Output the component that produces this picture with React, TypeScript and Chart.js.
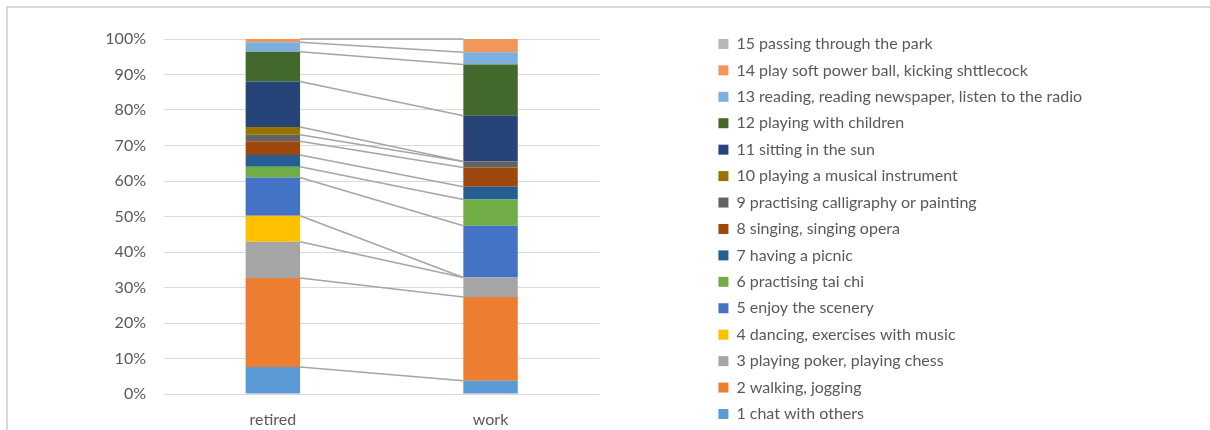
import React, { useEffect, useRef } from 'react';
import { Chart, registerables } from 'chart.js';

Chart.register(...registerables);

const categories = ['retired', 'work'];

const activityLabels = [
  '1 chat with others',
  '2 walking, jogging',
  '3 playing poker, playing chess',
  '4 dancing, exercises with music',
  '5 enjoy the scenery',
  '6 practising tai chi',
  '7 having a picnic',
  '8 singing, singing opera',
  '9 practising calligraphy or painting',
  '10 playing a musical instrument',
  '11 sitting in the sun',
  '12 playing with children',
  '13 reading, reading newspaper, listen to the radio',
  '14 play soft power ball, kicking shttlecock',
  '15 passing through the park',
];

// shares in percent, series 1..15
const retiredShares = [7.6, 25.1, 10.2, 7.3, 10.8, 3.0, 3.3, 3.9, 1.8, 2.2, 12.8, 8.4, 2.7, 0.9, 0];
const workShares = [3.7, 23.6, 5.5, 0, 14.6, 7.4, 3.6, 5.4, 1.7, 0, 12.9, 14.4, 3.5, 3.7, 0];

const seriesColors = [
  '#5B9BD5', '#ED7D31', '#A5A5A5', '#FFC000', '#4472C4',
  '#70AD47', '#255E91', '#9E480E', '#636363', '#997300',
  '#264478', '#43682B', '#7CAFDD', '#F1975A', '#B7B7B7',
];

const yTickStep = 10;

const TEXT_COLOR = '#595959';
const FONT = { family: 'Lato', size: 16 };
const LEGEND_PADDING = 10.43;
const LEGEND_WIDTH = 502;

const legendWidthPlugin = {
  id: 'legendWidth',
  beforeLayout(chart: any) {
    const lg = chart.legend;
    if (lg && !lg.__fixedWidth) {
      const orig = lg.fit.bind(lg);
      lg.fit = function () {
        orig();
        this.width = LEGEND_WIDTH;
      };
      lg.__fixedWidth = true;
    }
  },
};

const seriesLinesPlugin = {
  id: 'seriesLines',
  afterDatasetsDraw(chart: any) {
    const { ctx } = chart;
    ctx.save();
    ctx.strokeStyle = '#A5A5A5';
    ctx.lineWidth = 1.5;
    chart.data.datasets.forEach((ds: any, i: number) => {
      if (ds.data.every((v: number) => v === 0)) return;
      const meta = chart.getDatasetMeta(i);
      const a: any = meta.data[0];
      const b: any = meta.data[1];
      ctx.beginPath();
      ctx.moveTo(a.x + a.width / 2, a.y);
      ctx.lineTo(b.x - b.width / 2, b.y);
      ctx.stroke();
    });
    ctx.restore();
  },
};

export default function App() {
  const ref = useRef<HTMLCanvasElement>(null);

  useEffect(() => {
    document.body.style.margin = '0';
    const canvas = ref.current;
    if (!canvas) return;
    const chart = new Chart(canvas, {
      type: 'bar',
      data: {
        labels: categories,
        datasets: activityLabels.map((label, i) => ({
          label,
          data: [retiredShares[i], workShares[i]],
          backgroundColor: seriesColors[i],
          borderWidth: 0,
          categoryPercentage: 1,
          barPercentage: 0.25,
        })),
      },
      options: {
        responsive: false,
        animation: false,
        devicePixelRatio: 1,
        layout: { padding: { left: 0, right: 0, top: 0, bottom: -2.4 } },
        plugins: {
          legend: {
            position: 'right',
            align: 'end',
            reverse: true,
            labels: {
              boxWidth: 10,
              boxHeight: 10,
              padding: LEGEND_PADDING,
              color: TEXT_COLOR,
              font: FONT,
            },
          },
          tooltip: { enabled: false },
          title: { display: false },
        },
        scales: {
          x: {
            stacked: true,
            grid: { display: false },
            border: { display: false },
            ticks: { padding: 8, color: TEXT_COLOR, font: FONT },
            afterFit: (s: any) => {
              s.height = 38.4;
            },
          },
          y: {
            stacked: true,
            min: 0,
            max: 100,
            ticks: {
              stepSize: yTickStep,
              padding: 18,
              color: TEXT_COLOR,
              font: FONT,
              callback: (v: any) => v + '%',
            },
            grid: { color: '#D9D9D9', lineWidth: 1, drawTicks: false },
            border: { display: false },
            afterFit: (s: any) => {
              s.width = 164;
            },
          },
          xTop: {
            type: 'linear',
            axis: 'x',
            position: 'top',
            display: true,
            grid: { display: false },
            border: { display: false },
            ticks: { display: false },
            afterFit: (s: any) => {
              s.height = 39;
            },
          },
          yRight: {
            type: 'linear',
            axis: 'y',
            position: 'right',
            display: true,
            grid: { display: false },
            border: { display: false },
            ticks: { display: false },
            afterFit: (s: any) => {
              s.width = 108.6;
            },
          },
        },
      } as any,
      plugins: [legendWidthPlugin, seriesLinesPlugin],
    });
    return () => chart.destroy();
  }, []);

  return (
    <div style={{ position: 'relative', width: 1210, height: 430, overflow: 'hidden' }}>
      <div
        style={{
          position: 'absolute',
          left: 6,
          top: 6,
          width: 1210,
          height: 430,
          borderTop: '2px solid #D9D9D9',
          borderLeft: '2px solid #D9D9D9',
          boxSizing: 'border-box',
          pointerEvents: 'none',
        }}
      />
      <canvas ref={ref} width={1210} height={430} style={{ position: 'absolute', left: 0, top: 0 }} />
    </div>
  );
}
